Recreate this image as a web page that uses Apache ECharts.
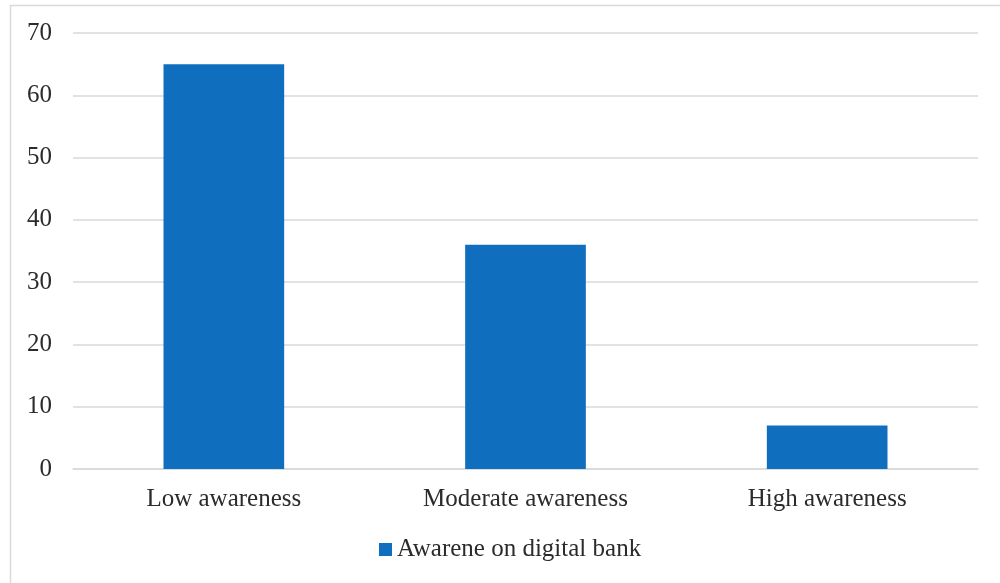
<!DOCTYPE html>
<html>
<head>
<meta charset="utf-8">
<script src="https://cdn.jsdelivr.net/npm/echarts@6/dist/echarts.min.js"></script>
<style>
html,body{margin:0;padding:0;background:#fff;}
#c{width:1000px;height:583px;}
</style>
</head>
<body>
<div id="c"></div>
<script>
const categories = ['Low awareness', 'Moderate awareness', 'High awareness'];
const seriesName = 'Awarene on digital bank';
const values = [65, 36, 7];

const chart = echarts.init(document.getElementById('c'), null, {renderer: 'canvas'});
const font = '"Liberation Serif", "Times New Roman", serif';
chart.setOption({
  animation: false,
  backgroundColor: '#fff',
  textStyle: {fontFamily: font},
  graphic: [{
    type: 'rect',
    shape: {x: 10.5, y: 5.5, width: 1000, height: 600},
    style: {fill: 'none', stroke: '#D9D9D9', lineWidth: 1.5},
    silent: true
  }],
  grid: {left: 73, right: 22, top: 33, bottom: 114, containLabel: false},
  legend: {
    bottom: 21,
    left: 379,
    padding: 0,
    itemWidth: 13,
    itemHeight: 13,
    icon: 'rect',
    textStyle: {fontFamily: font, fontSize: 25, color: '#2b2b2b'},
    data: [seriesName]
  },
  xAxis: {
    type: 'category',
    data: categories,
    axisLine: {show: true, lineStyle: {color: '#D9D9D9', width: 1.5}},
    axisTick: {show: false},
    axisLabel: {fontFamily: font, fontSize: 25, color: '#2b2b2b', margin: 18}
  },
  yAxis: {
    type: 'value',
    min: 0, max: 70, interval: 10,
    axisLine: {show: false},
    axisTick: {show: false},
    axisLabel: {fontFamily: font, fontSize: 25, color: '#2b2b2b', margin: 21},
    splitLine: {lineStyle: {color: '#D9D9D9', width: 1.5}}
  },
  series: [{
    name: seriesName,
    type: 'bar',
    data: values,
    barWidth: '40%',
    itemStyle: {color: '#106EBE'}
  }]
});
</script>
</body>
</html>
